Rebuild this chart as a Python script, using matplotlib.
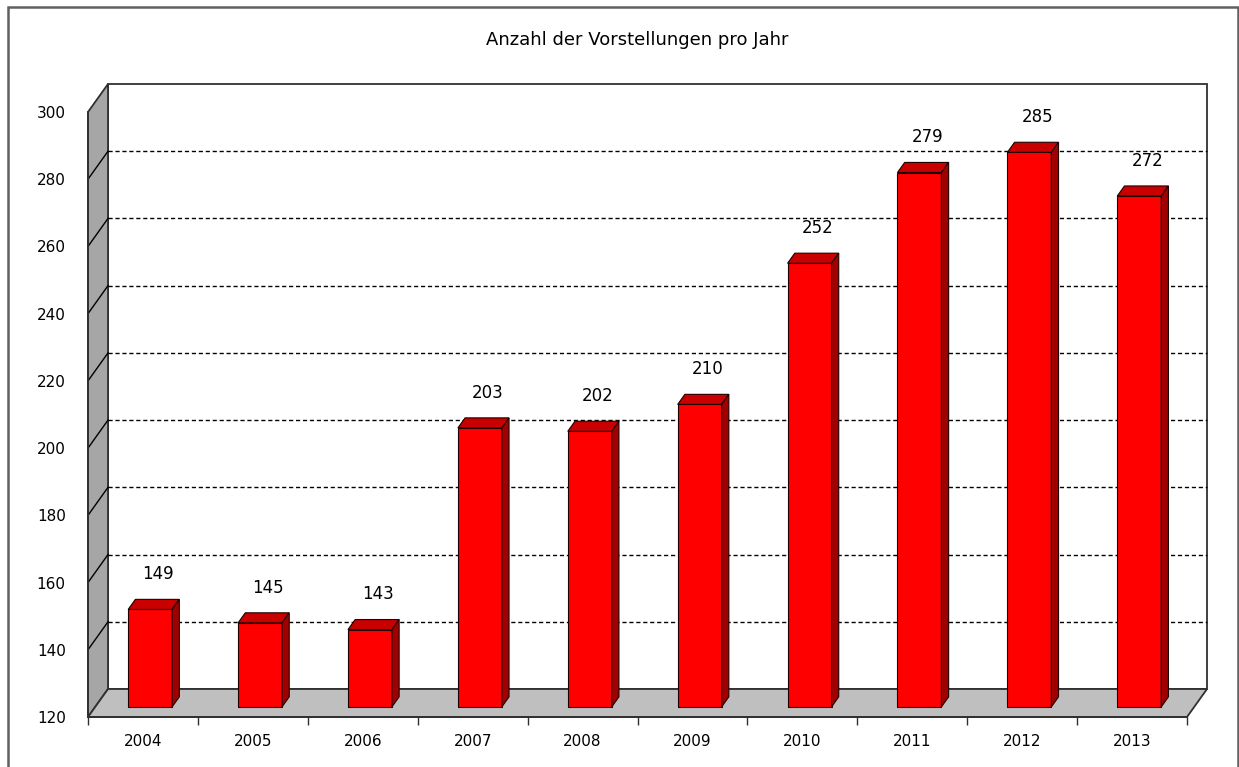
import matplotlib.pyplot as plt
from matplotlib.patches import Rectangle

# data
years = ['2004', '2005', '2006', '2007', '2008', '2009', '2010', '2011', '2012', '2013']
values = [149, 145, 143, 203, 202, 210, 252, 279, 285, 272]
title = "Anzahl der Vorstellungen pro Jahr"

y_min, y_max, y_step = 120, 300, 20

# fake 3D depth (in data units)
DX, DY = 0.182, 8.33       # full depth of the walls
FRONT = 0.36               # where the bars start inside the depth
BAR_D = 0.36               # bar depth as fraction of full depth
W = 0.40                   # bar width

W_PX, H_PX = 1239, 767
fig = plt.figure(figsize=(W_PX / 100, H_PX / 100), dpi=100)
fig.patch.set_facecolor('white')

ax = fig.add_axes([88 / W_PX, (H_PX - 717) / H_PX, 1099 / W_PX, 605 / H_PX])
ax.set_xlim(-0.5, len(years) - 0.5)
ax.set_ylim(y_min, y_max)
ax.patch.set_alpha(0)

x_lo, x_hi = -0.5, len(years) - 0.5
wall_edge = '#303030'

# back wall
ax.add_patch(Rectangle((x_lo + DX, y_min + DY), x_hi - x_lo, y_max - y_min,
                       facecolor='white', edgecolor=wall_edge, lw=1.3, zorder=0, clip_on=False))
# left wall
ax.fill([x_lo, x_lo, x_lo + DX, x_lo + DX], [y_min, y_max, y_max + DY, y_min + DY],
        facecolor='#a6a6a6', edgecolor=wall_edge, lw=1.3, zorder=1, clip_on=False)
# floor
ax.fill([x_lo, x_hi, x_hi + DX, x_lo + DX], [y_min, y_min, y_min + DY, y_min + DY],
        facecolor='#bfbfbf', edgecolor=wall_edge, lw=1.3, zorder=1, clip_on=False)

# gridlines on back wall and left wall
for v in range(y_min + y_step, y_max, y_step):
    ax.plot([x_lo + DX, x_hi + DX], [v + DY, v + DY], color='black', ls=(0, (3, 2)),
            lw=1.0, zorder=1.5, clip_on=False)
    ax.plot([x_lo, x_lo + DX], [v, v + DY], color='black', lw=1.0, zorder=1.5, clip_on=False)

# bars
fx, fy = FRONT * DX, FRONT * DY
bx, by = BAR_D * DX, BAR_D * DY
for i, v in enumerate(values):
    xc = i + fx
    xl, xr = xc - W / 2, xc + W / 2
    base = y_min + fy
    top = v + fy
    ax.bar(xc, v - y_min, bottom=base, width=W, color='#ff0000', edgecolor='#200000',
           lw=0.8, zorder=3, clip_on=False)
    ax.fill([xl, xr, xr + bx, xl + bx], [top, top, top + by, top + by],
            facecolor='#c80000', edgecolor='#200000', lw=0.8, zorder=3, clip_on=False)
    ax.fill([xr, xr + bx, xr + bx, xr], [base, base + by, top + by, top],
            facecolor='#a00000', edgecolor='#200000', lw=0.8, zorder=3, clip_on=False)
    ax.text(i + 0.14, v + 13.5, str(v), ha='center', va='center', fontsize=12,
            color='black', zorder=4, clip_on=False)

# axes styling
for s in ['top', 'right']:
    ax.spines[s].set_visible(False)
for s in ['left', 'bottom']:
    ax.spines[s].set_color(wall_edge)
    ax.spines[s].set_linewidth(1.3)
    ax.spines[s].set_zorder(2)

ax.set_yticks(range(y_min, y_max + 1, y_step))
ax.tick_params(axis='y', length=0, pad=16, labelsize=11)
ax.set_xticks(range(len(years)))
ax.set_xticklabels(years)
ax.set_xticks([i - 0.5 for i in range(len(years) + 1)], minor=True)
ax.tick_params(axis='x', which='major', length=0, pad=12, labelsize=11)
ax.tick_params(axis='x', which='minor', length=6, color=wall_edge, width=1)

# title and outer frame
fig.text(637 / W_PX, 1 - 40 / H_PX, title, ha='center', va='center', fontsize=13)
fig.add_artist(Rectangle((8 / W_PX, -0.05), 1230 / W_PX, 1.05 - 7 / H_PX,
                         transform=fig.transFigure, fill=False, edgecolor='#606060', lw=1.8))

fig.savefig('out.png', dpi=100)
